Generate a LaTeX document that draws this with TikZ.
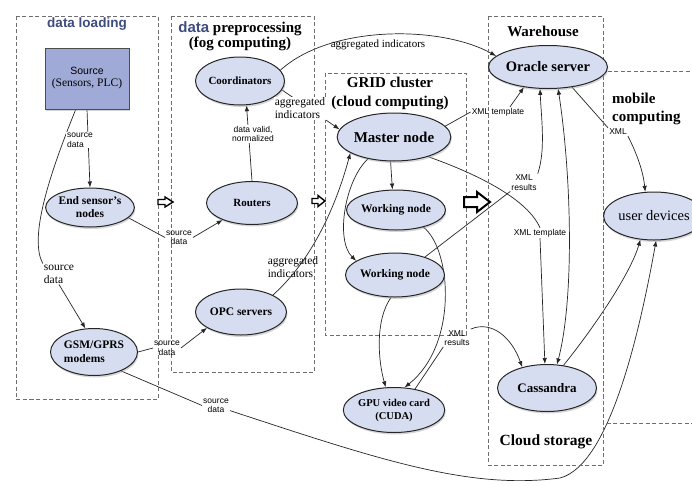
\documentclass[tikz,border=0pt]{standalone}
\usepackage{fontspec}
\setmainfont{Liberation Serif}
\setsansfont{Liberation Sans}
\usetikzlibrary{shapes.geometric,arrows.meta,shadows,backgrounds}
\definecolor{nodefill}{RGB}{214,221,240}
\definecolor{srcfill}{RGB}{160,170,215}
\definecolor{ttlblue}{RGB}{62,76,128}
\definecolor{boxline}{RGB}{110,110,110}
\tikzset{
 box/.style={draw=boxline, dash pattern=on 4pt off 2.5pt, line width=0.8pt},
 shad/.style={drop shadow={shadow xshift=1pt, shadow yshift=-2pt, fill=black!35, opacity=0.45}},
 ell/.style={ellipse, draw=black!85, line width=1pt, fill=nodefill, inner sep=0pt, align=center, shad,
   font=\bfseries\fontsize{11}{13}\selectfont},
 conn/.style={draw=black!85, line width=0.7pt},
 arr/.style={conn, -{Latex[length=6pt,width=4.5pt]}},
 lbl/.style={font=\sffamily\fontsize{8.5}{9.5}\selectfont, align=center, inner sep=1pt},
 slbl/.style={font=\fontsize{11.5}{13}\selectfont, align=left, inner sep=1pt},
 ttl/.style={font=\bfseries\fontsize{15}{15}\selectfont, align=center, inner sep=0pt},
 barrow/.style={draw=black, line width=1.4pt, fill=white, line join=miter}
}
\begin{document}
\begin{tikzpicture}[x=1pt,y=-1pt]
\useasboundingbox (0,0) rectangle (692,485);
\begin{scope}[on background layer]
\fill[white] (0,0) rectangle (692,485);
\end{scope}

% containers
\draw[box] (16,16) rectangle (158,399);
\draw[box] (171,16) rectangle (314,372);
\draw[box] (325,73) rectangle (466,335);
\draw[box] (488,16) rectangle (603,465);
\draw[box] (696,71) -- (603,71) -- (603,423) -- (696,423);

% titles
\node[font=\sffamily\bfseries\fontsize{13.5}{14}\selectfont, text=ttlblue, inner sep=0pt] (t1) at (87,24) {data loading};
\node[ttl] (t2) at (240,36) {{\sffamily\color{ttlblue}data} preprocessing\\(fog computing)};
\node[ttl, font=\bfseries\fontsize{15}{19}\selectfont] (t3) at (390,93) {GRID cluster\\(cloud computing)};
\node[ttl] (t4) at (543,31) {Warehouse};
\node[ttl, font=\bfseries\fontsize{15}{18}\selectfont, align=left, anchor=west] (t5) at (612,109) {mobile\\computing};
\node[ttl, font=\bfseries\fontsize{15.5}{16}\selectfont] (t6) at (546,442) {Cloud storage};

% nodes
\node[draw=black!70, line width=0.8pt, fill=srcfill, minimum width=84pt, minimum height=61pt, align=center, inner sep=0pt, shad] (src) at (87,78.5)
  {{\sffamily\fontsize{10.5}{13}\selectfont Source}\\{\fontsize{11.5}{13}\selectfont (Sensors, PLC)}};
\node[ell, minimum width=86pt, minimum height=39pt, font=\bfseries\fontsize{11.5}{13}\selectfont] (endn) at (90,207.5) {End sensor's\\nodes};
\node[ell, minimum width=87pt, minimum height=47pt, align=left, font=\bfseries\fontsize{11.5}{14}\selectfont] (gsm) at (94,352) {GSM/GPRS\\modems};
\node[ell, minimum width=87pt, minimum height=48pt] (coord) at (240,81) {Coordinators};
\node[ell, minimum width=91pt, minimum height=43pt] (rout) at (252,203) {Routers};
\node[ell, minimum width=91pt, minimum height=46pt, font=\bfseries\fontsize{11.5}{13}\selectfont] (opc) at (241,312) {OPC servers};
\node[ell, minimum width=108pt, minimum height=48pt, font=\bfseries\fontsize{15}{16}\selectfont] (master) at (394,137) {Master node};
\node[ell, minimum width=88pt, minimum height=40pt, font=\bfseries\fontsize{11.5}{13}\selectfont] (wn1) at (396,210) {Working node};
\node[ell, minimum width=89pt, minimum height=44pt, font=\bfseries\fontsize{11.5}{13}\selectfont] (wn2) at (395,275) {Working node};
\node[ell, minimum width=92pt, minimum height=45pt, font=\bfseries\fontsize{10.5}{13}\selectfont] (gpu) at (394,410) {GPU video card\\(CUDA)};
\node[ell, minimum width=95pt, minimum height=43pt, font=\bfseries\fontsize{14.5}{16}\selectfont] (ora) at (548,67) {Oracle server};
\node[ell, minimum width=96pt, minimum height=48pt, font=\fontsize{14.5}{16}\selectfont] (user) at (654,216) {user devices};
\node[ell, minimum width=99pt, minimum height=47pt, font=\bfseries\fontsize{13}{15}\selectfont] (cass) at (547,388) {Cassandra};

% labels
\node[lbl, align=left, fill=white] (l1) at (80,140) {source\\data};
\node[slbl, fill=white] (l2) at (59,274) {source\\data};
\node[lbl] (l3) at (179,237.5) {source\\data};
\node[lbl] (l4) at (167,348) {source\\data};
\node[lbl] (l5) at (216,405.5) {source\\data};
\node[lbl, fill=white] (l6) at (253,134) {data valid,\\normalized};
\node[slbl, fill=white] (l7) at (300,108.5) {aggregated\\indicators};
\node[slbl, font=\fontsize{11}{12}\selectfont] (l8) at (378,45) {aggregated indicators};
\node[lbl] (l9) at (498,112) {XML template};
\node[lbl] (l10) at (524,182.5) {XML\\results};
\node[lbl] (l11) at (540,233) {XML template};
\node[lbl] (l14) at (618,132) {XML};
\node[slbl] (l17) at (293,267) {aggregated\\indicators};
\node[lbl] (l20) at (457,338) {XML\\results};

% block arrows
\draw[barrow] (158,199.5) -- (165,199.5) -- (165,197) -- (173,202) -- (165,207) -- (165,204.5) -- (158,204.5) -- cycle;
\draw[barrow] (312,198.5) -- (318,198.5) -- (318,195.5) -- (325,201) -- (318,206.5) -- (318,203.5) -- (312,203.5) -- cycle;
\draw[barrow, line width=2pt] (464,197) -- (477,197) -- (477,192) -- (490,202) -- (477,212) -- (477,207) -- (464,207) -- cycle;

% connectors
\begin{scope}[on background layer]
\draw[arr] (src.south) -- (endn.north);
\draw[conn] (src.250) .. controls (45,185) and (30,240) .. (l2.north west);
\draw[arr] (l2.south) -- (gsm.110);
\draw[conn] (endn.-15) -- (l3.west);
\draw[arr] (l3.east) -- (rout.210);
\draw[conn] (gsm.east) -- (l4.west);
\draw[arr] (l4.east) -- (opc.205);
\draw[conn] (gsm.-35) -- (l5.west);
\draw[arr] (l5.-20) .. controls (380,460) and (470,490) .. (560,478) .. controls (610,465) and (640,330) .. (user.-85);
\draw[arr] (rout.north) -- (coord.-75);
\draw[arr] (coord.-12) -- (master.172);
\draw[arr] (coord.15) .. controls (330,25) and (440,25) .. (ora.168);
\draw[conn] (master.12) -- (l9.west);
\draw[arr] ([xshift=12pt]l9.north) -- (ora.220);
\draw[conn] (wn2.31) -- (l10.south west);
\draw[arr] (l10.north east) .. controls (546,150) and (541,115) .. (ora.-110);
\draw[conn] (master.-30) .. controls (480,175) and (528,200) .. (l11.north);
\draw[arr] (l11.south) -- (cass.95);
\draw[conn, {Latex[length=6pt,width=4.5pt]}-{Latex[length=6pt,width=4.5pt]}] (ora.-65) .. controls (572,180) and (574,300) .. (cass.67);
\draw[arr] (cass.54) .. controls (592,330) and (630,275) .. (user.-120);
\draw[conn] (ora.-40) -- (l14.north west);
\draw[arr] (l14.south east) .. controls (636,152) and (643,170) .. (user.110);
\draw[arr] (master.-98) -- (wn1.100);
\draw[arr] (master.-140) .. controls (345,180) and (335,240) .. (wn2.160);
\draw[arr] (opc.28) .. controls (310,262) and (335,210) .. (master.-160);
\draw[arr] (wn1.-32) .. controls (452,250) and (458,345) .. (gpu.65);
\draw[arr] (wn2.-100) .. controls (375,320) and (378,360) .. (gpu.110);
\draw[conn] (gpu.45) -- (l20.south west);
\draw[arr] (l20.north east) .. controls (492,320) and (512,338) .. (cass.140);
\end{scope}
\end{tikzpicture}
\end{document}
